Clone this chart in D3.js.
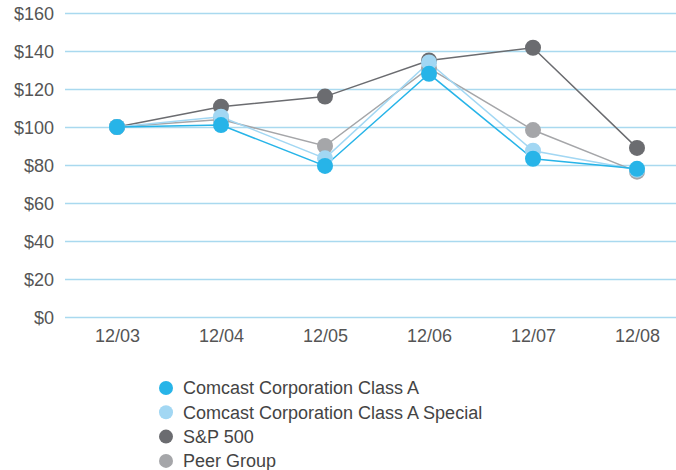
<!DOCTYPE html>
<html><head><meta charset="utf-8">
<script src="https://cdn.jsdelivr.net/npm/d3@7"></script>
<style>body{margin:0;background:#fff}svg{display:block}</style>
</head><body>
<svg id="c" width="676" height="470"></svg>
<script>
const categories = ["12/03","12/04","12/05","12/06","12/07","12/08"];
const yTicks = [0,20,40,60,80,100,120,140,160];
const seriesNames = ["Comcast Corporation Class A","Comcast Corporation Class A Special","S&P 500","Peer Group"];
const classA = [100,101,79.5,128,83.3,78];
const classASpecial = [100,105.4,83.5,134,87.5,77.5];
const sp500 = [100,110.7,116,135,141.7,89];
const peerGroup = [100,104,90,131,98.4,76.5];
const colors = ["#27b4e8","#a2d7f3","#6b6c70","#a5a6a9"];

const series = seriesNames.map((n,i)=>({name:n,values:[classA,classASpecial,sp500,peerGroup][i],color:colors[i]}));
const drawOrder = [2,3,1,0];
const font = "Liberation Sans, Arial, sans-serif";

const svg = d3.select("#c");
const x = d3.scalePoint().domain(categories).range([65,689]).padding(0.5);
const y = d3.scaleLinear().domain([0,160]).range([317,13]);

// grid
const gy = svg.append("g").attr("transform","translate(65,0)")
  .call(d3.axisLeft(y).tickValues(yTicks).tickSize(-611).tickFormat(d=>"$"+d).tickPadding(11));
gy.select(".domain").remove();
gy.selectAll(".tick line").attr("stroke","#a9d9ef").attr("stroke-width",1.6);
gy.selectAll(".tick text").attr("font-family",font).attr("font-size",18).attr("fill","#555").attr("dy","0.35em");

const gx = svg.append("g").attr("transform","translate(0,317)")
  .call(d3.axisBottom(x).tickSize(0).tickPadding(12));
gx.select(".domain").remove();
gx.selectAll(".tick text").attr("font-family",font).attr("font-size",18).attr("fill","#555");

const line = d3.line().x((d,i)=>x(categories[i])).y(d=>y(d));
drawOrder.forEach(i=>{
  const s = series[i];
  svg.append("path").datum(s.values).attr("d",line).attr("fill","none").attr("stroke",s.color).attr("stroke-width",1.5);
});
drawOrder.forEach(i=>{
  const s = series[i];
  svg.append("g").selectAll("circle").data(s.values).join("circle")
    .attr("cx",(d,j)=>x(categories[j])).attr("cy",d=>y(d)).attr("r",8).attr("fill",s.color);
});

// legend
const lg = svg.append("g");
series.forEach((s,i)=>{
  const yy = 388 + i*24.3;
  lg.append("circle").attr("cx",166).attr("cy",yy).attr("r",7).attr("fill",s.color);
  lg.append("text").attr("x",183).attr("y",yy).attr("dy","0.35em").attr("font-family",font)
    .attr("font-size",18).attr("fill","#444").text(s.name);
});
</script>
</body></html>
